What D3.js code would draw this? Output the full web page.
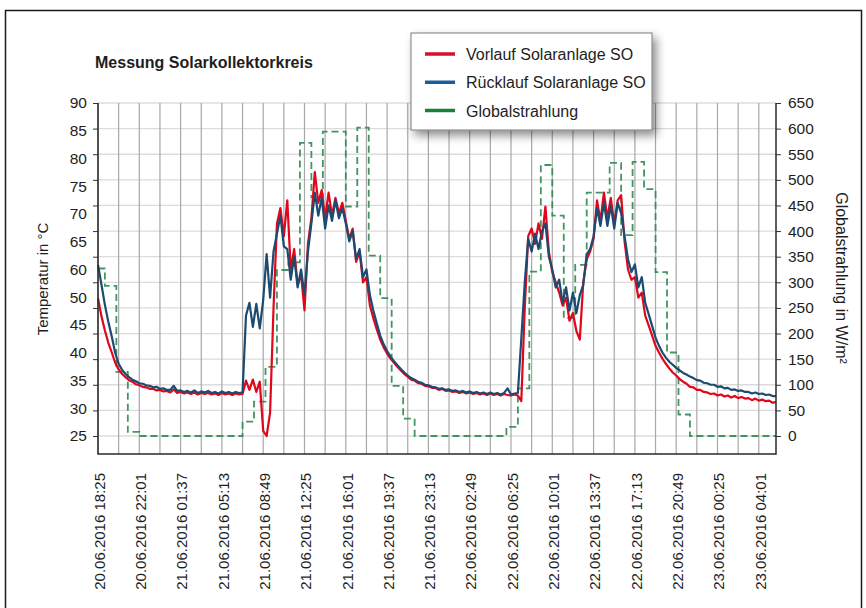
<!DOCTYPE html>
<html>
<head>
<meta charset="utf-8">
<script src="https://cdn.jsdelivr.net/npm/d3@7"></script>
<style>
  body { margin: 0; background: #fff; }
  svg text { font-family: "Liberation Sans", Arial, sans-serif; fill: #1e1e1e; }
</style>
</head>
<body>
<svg id="chart" width="866" height="608"></svg>
<script>
// ---- data ----
var tickLabels = [
  "20.06.2016 18:25", "20.06.2016 22:01", "21.06.2016 01:37", "21.06.2016 05:13",
  "21.06.2016 08:49", "21.06.2016 12:25", "21.06.2016 16:01", "21.06.2016 19:37",
  "21.06.2016 23:13", "22.06.2016 02:49", "22.06.2016 06:25", "22.06.2016 10:01",
  "22.06.2016 13:37", "22.06.2016 17:13", "22.06.2016 20:49", "23.06.2016 00:25",
  "23.06.2016 04:01"
];
var startLabel = "20.06.2016 18:25",
    endLabel = "23.06.2016 05:31",
    sampleMinutes = 18;       // temperature samples
var leftLabels = ["90", "85", "80", "75", "70", "65", "60", "50", "45", "40", "35", "30", "25"];

// Vorlauf Solaranlage SO (°C), one value every 18 min
var vorlauf = [
  51.9, 48.4, 45.6, 43.2, 41.3, 39.3, 38.0, 37.1, 36.5, 35.9,
  35.6, 35.1, 34.9, 34.6, 34.5, 34.2, 34.2, 33.9, 34.0, 33.7,
  33.8, 33.5, 34.1, 33.4, 33.6, 33.3, 33.5, 33.2, 33.5, 33.1,
  33.4, 33.2, 33.4, 33.1, 33.3, 33.0, 33.4, 33.1, 33.3, 33.0,
  33.3, 33.1, 33.2, 35.8, 34.0, 36.0, 33.6, 35.6, 26.0, 25.0,
  29.5, 50.0, 66.5, 69.5, 64.0, 71.0, 57.5, 61.5, 54.5, 56.5,
  49.5, 62.5, 67.5, 76.5, 70.5, 73.0, 67.5, 72.5, 68.0, 71.5,
  68.5, 70.5, 67.0, 63.5, 65.5, 59.0, 61.0, 55.0, 56.0, 50.5,
  48.0, 45.8, 43.8, 42.3, 41.1, 40.1, 39.3, 38.5, 37.8, 37.1,
  36.6, 36.0, 35.8, 35.3, 35.2, 34.8, 34.7, 34.4, 34.4, 34.0,
  34.2, 33.8, 33.9, 33.6, 33.7, 33.4, 33.6, 33.3, 33.5, 33.2,
  33.4, 33.1, 33.3, 33.0, 33.3, 33.0, 33.2, 32.9, 33.2, 33.0,
  32.9, 33.1, 32.9, 31.8, 50.0, 64.0, 65.5, 62.5, 66.5, 63.5,
  69.8, 61.0, 57.0, 55.0, 53.0, 50.5, 52.0, 47.5, 49.0, 45.5,
  43.8, 55.0, 59.5, 61.0, 63.5, 71.0, 67.0, 72.5, 67.5, 71.5,
  66.5, 71.0, 72.0, 63.0, 57.5, 55.5, 56.0, 52.0, 53.0, 48.5,
  46.6, 44.6, 42.6, 41.3, 40.1, 39.1, 38.2, 37.4, 36.8, 36.1,
  35.6, 35.2, 34.6, 34.5, 34.0, 34.0, 33.6, 33.5, 33.2, 33.3,
  32.9, 33.1, 32.7, 32.9, 32.5, 32.8, 32.4, 32.6, 32.3, 32.4,
  32.0, 32.3, 31.9, 32.1, 31.8, 31.9, 31.5, 31.6
];

// Rücklauf Solaranlage SO (°C), same sampling
var ruecklauf = [
  58.4, 54.6, 50.6, 47.3, 44.4, 41.2, 39.1, 37.9, 37.1, 36.5,
  36.0, 35.7, 35.3, 35.2, 34.9, 34.8, 34.5, 34.6, 34.2, 34.3,
  34.0, 34.0, 34.8, 33.8, 33.9, 33.6, 33.8, 33.5, 33.9, 33.4,
  33.7, 33.5, 33.8, 33.4, 33.6, 33.3, 33.7, 33.4, 33.6, 33.3,
  33.6, 33.4, 33.5, 48.5, 51.0, 46.3, 50.8, 46.0, 51.5, 60.5,
  52.0, 61.0, 64.5, 68.0, 62.0, 61.5, 55.5, 60.0, 54.0, 57.5,
  52.5, 61.0, 66.5, 72.5, 68.0, 71.5, 65.5, 70.0, 67.0, 71.0,
  67.5, 69.5, 66.5, 63.0, 65.0, 59.5, 61.5, 56.0, 57.5, 52.5,
  49.5, 47.0, 44.6, 42.9, 41.6, 40.5, 39.6, 38.8, 38.1, 37.4,
  36.8, 36.3, 36.0, 35.6, 35.4, 35.0, 34.9, 34.6, 34.5, 34.2,
  34.3, 34.0, 34.1, 33.8, 33.9, 33.6, 33.8, 33.5, 33.7, 33.4,
  33.6, 33.3, 33.5, 33.2, 33.5, 33.2, 33.4, 33.1, 33.4, 34.3,
  33.1, 33.3, 33.4, 44.0, 55.0, 63.5, 61.0, 64.5, 61.5, 65.0,
  66.5, 60.0, 57.5, 54.0, 55.5, 51.0, 54.0, 49.5, 53.0, 49.0,
  52.5, 54.5, 60.5, 61.5, 64.0, 69.5, 66.0, 70.5, 66.0, 70.0,
  65.5, 70.5, 68.5, 64.0, 59.5, 57.0, 58.5, 54.0, 56.0, 51.0,
  48.8, 46.5, 44.2, 42.6, 41.3, 40.3, 39.5, 38.9, 38.3, 37.8,
  37.3, 37.0, 36.6, 36.3, 35.9, 35.8, 35.4, 35.3, 35.0, 35.0,
  34.6, 34.7, 34.3, 34.4, 34.0, 34.1, 33.8, 33.9, 33.6, 33.6,
  33.3, 33.5, 33.2, 33.3, 33.0, 33.1, 32.8, 32.8
];

// Globalstrahlung (W/m²), hourly means; first value runs until 19:01
var strahlungWechsel = "20.06.2016 19:01";
var globalstrahlung = [
  327, 293, 125, 8, 0, 0, 0, 0, 0, 0,
  0, 0, 0, 28, 67, 135, 324, 339, 572, 466,
  594, 594, 448, 602, 352, 269, 98, 34, 0, 0,
  0, 0, 0, 0, 0, 0, 18, 93, 321, 529,
  430, 230, 334, 475, 475, 533, 392, 535, 482, 320,
  163, 42, 0, 0, 0, 0, 0, 0, 0, 0
];

var seriesNames = ["Vorlauf Solaranlage SO", "Rücklauf Solaranlage SO", "Globalstrahlung"];

// ---- layout ----
var svg = d3.select('#chart');
var plotL = 98, plotR = 776, plotT = 103, zeroY = 436, plotB = 454;
var colRed = '#e0071c', colBlue = '#1b4b70', colGreen = '#2f8a50';

var parse = d3.timeParse('%d.%m.%Y %H:%M');
var start = parse(startLabel), end = parse(endLabel);
var labelDates = tickLabels.map(parse);

var x = d3.scaleTime().domain([start, end]).range([plotL, plotR]);
var yT = d3.scaleLinear().domain([25, 90]).range([zeroY, plotT]);
var yG = d3.scaleLinear().domain([0, 650]).range([zeroY, plotT]);
var yLbl = d3.scalePoint().domain(leftLabels).range([plotT, zeroY]);

// shadow for legend
var defs = svg.append('defs');
defs.append('filter').attr('id', 'shadow')
    .attr('x', '-20%').attr('y', '-20%').attr('width', '150%').attr('height', '170%')
  .append('feDropShadow')
    .attr('dx', 4).attr('dy', 5).attr('stdDeviation', 5)
    .attr('flood-color', '#000').attr('flood-opacity', 0.45);

// outer frame
svg.append('rect')
   .attr('x', 5.5).attr('y', 10.5).attr('width', 856).attr('height', 700)
   .attr('fill', 'none').attr('stroke', '#1a1a1a').attr('stroke-width', 1.5);

// horizontal grid
svg.append('g').selectAll('line')
   .data(d3.range(0, 651, 50))
   .enter().append('line')
   .attr('x1', plotL).attr('x2', plotR)
   .attr('y1', function(d){ return yG(d); })
   .attr('y2', function(d){ return yG(d); })
   .attr('stroke', '#dcdcdc').attr('stroke-width', 1.3);

// vertical grid every 1:48 h
var gridTimes = d3.range(0, 33).map(function(i){ return d3.timeMinute.offset(start, i * 108); });
svg.append('g').selectAll('line')
   .data(gridTimes)
   .enter().append('line')
   .attr('x1', function(d){ return x(d); })
   .attr('x2', function(d){ return x(d); })
   .attr('y1', plotT).attr('y2', plotB)
   .attr('stroke', '#a8a8a8').attr('stroke-width', 1.2);

// series
var tempTimes = vorlauf.map(function(d, i){ return d3.timeMinute.offset(start, i * sampleMinutes); });
var wechsel = parse(strahlungWechsel);
var gTimes = globalstrahlung.map(function(d, i){
  return i === 0 ? start : d3.timeHour.offset(wechsel, i - 1);
});
var gData = globalstrahlung.map(function(d, i){ return [gTimes[i], d]; });
gData.push([end, globalstrahlung[globalstrahlung.length - 1]]);

var gLine = d3.line()
    .x(function(d){ return x(d[0]); })
    .y(function(d){ return yG(d[1]); })
    .curve(d3.curveStepAfter);

svg.append('path')
   .datum(gData)
   .attr('d', gLine)
   .attr('fill', 'none')
   .attr('stroke', colGreen).attr('stroke-width', 1.8)
   .attr('stroke-dasharray', '7,4').attr('opacity', 0.9);

var tLine = d3.line()
    .x(function(d, i){ return x(tempTimes[i]); })
    .y(function(d){ return yT(d); });

svg.append('path')
   .datum(vorlauf)
   .attr('d', tLine)
   .attr('fill', 'none')
   .attr('stroke', colRed).attr('stroke-width', 2.2)
   .attr('stroke-linejoin', 'round');

svg.append('path')
   .datum(ruecklauf)
   .attr('d', tLine)
   .attr('fill', 'none')
   .attr('stroke', colBlue).attr('stroke-width', 2.2)
   .attr('stroke-linejoin', 'round');

// axes
var leftTicks = svg.append('g')
   .attr('transform', 'translate(' + plotL + ',0)')
   .call(d3.axisLeft(yT).tickValues(d3.range(25, 91, 5)).tickSize(5).tickFormat(''));
leftTicks.select('.domain').remove();
leftTicks.selectAll('line').attr('stroke', '#333');

var leftText = svg.append('g')
   .attr('transform', 'translate(' + plotL + ',0)')
   .call(d3.axisLeft(yLbl).tickSize(0).tickPadding(11));
leftText.select('.domain').remove();
leftText.selectAll('text').style('font-size', '15.5px');

var rightAxis = svg.append('g')
   .attr('transform', 'translate(' + plotR + ',0)')
   .call(d3.axisRight(yG).tickValues(d3.range(0, 651, 50)).tickSize(5).tickPadding(7));
rightAxis.select('.domain').remove();
rightAxis.selectAll('line').attr('stroke', '#333');
rightAxis.selectAll('text').style('font-size', '15.5px');

var xAxis = svg.append('g')
   .attr('transform', 'translate(0,' + plotB + ')')
   .call(d3.axisBottom(x).tickValues(labelDates).tickSize(0)
          .tickFormat(function(d, i){ return tickLabels[i]; }));
xAxis.select('.domain').remove();
xAxis.selectAll('text')
   .attr('transform', 'rotate(-90)')
   .attr('x', -19).attr('y', 1).attr('dy', '0.35em')
   .attr('text-anchor', 'end')
   .style('font-size', '15px');

// axis lines
var axisPath = d3.path();
axisPath.moveTo(plotL, plotT); axisPath.lineTo(plotL, plotB); axisPath.lineTo(plotR, plotB); axisPath.lineTo(plotR, plotT);
svg.append('path').attr('d', axisPath.toString())
   .attr('fill', 'none').attr('stroke', '#2a2a2a').attr('stroke-width', 1.5);

// titles
svg.append('text')
   .attr('x', 95).attr('y', 68)
   .style('font-size', '16px').style('font-weight', 'bold')
   .text('Messung Solarkollektorkreis');

svg.append('text')
   .attr('transform', 'translate(48,279) rotate(-90)')
   .attr('text-anchor', 'middle')
   .style('font-size', '15px')
   .text('Temperatur in °C');

svg.append('text')
   .attr('transform', 'translate(836,278) rotate(90)')
   .attr('text-anchor', 'middle')
   .style('font-size', '16px')
   .text('Globalstrahlung in W/m²');

// legend
var legend = svg.append('g');
legend.append('rect')
   .attr('x', 411).attr('y', 33).attr('width', 241).attr('height', 97)
   .attr('fill', '#fff').attr('stroke', '#7a7a7a').attr('stroke-width', 1)
   .attr('filter', 'url(#shadow)');

var legendColors = ['#d6102a', '#1d5c9b', '#17803a'];
var legendY = d3.scalePoint().domain(seriesNames).range([54, 110.5]);
var items = legend.selectAll('g.item')
   .data(seriesNames)
   .enter().append('g').attr('class', 'item')
   .attr('transform', function(d){ return 'translate(0,' + legendY(d) + ')'; });
items.append('line')
   .attr('x1', 425).attr('x2', 455)
   .attr('stroke', function(d, i){ return legendColors[i]; })
   .attr('stroke-width', 3.5);
items.append('text')
   .attr('x', 466).attr('y', 6)
   .style('font-size', '16px')
   .text(function(d){ return d; });
</script>
</body>
</html>
